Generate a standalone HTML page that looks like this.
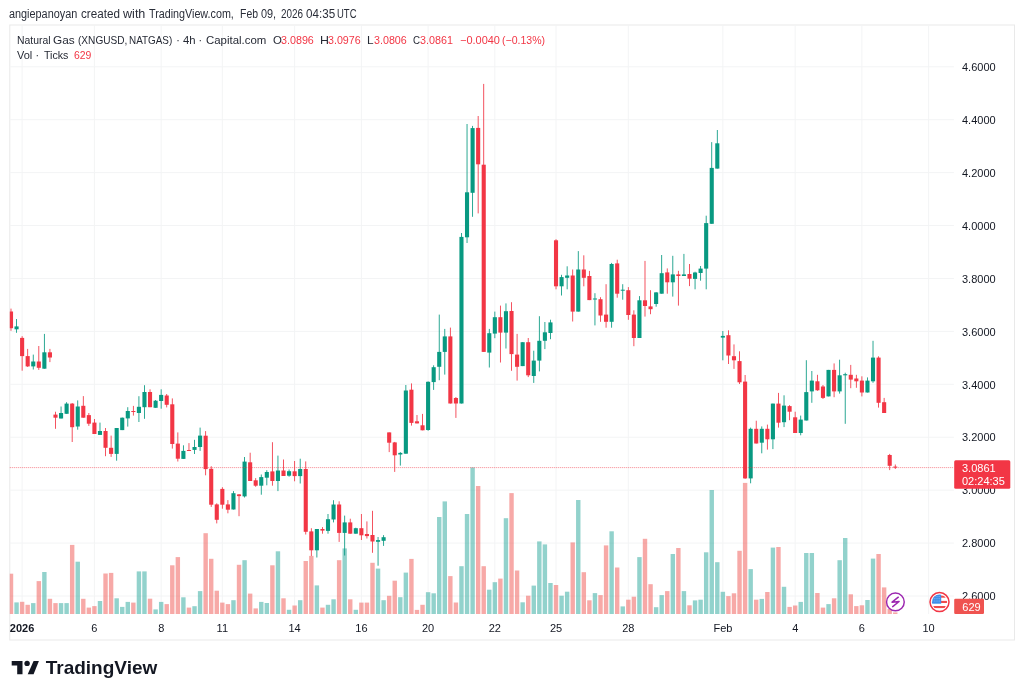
<!DOCTYPE html>
<html><head><meta charset="utf-8">
<style>
html,body{margin:0;padding:0;background:#fff;}
body{width:1024px;height:696px;overflow:hidden;position:relative;font-family:"Liberation Sans",sans-serif;color:#131722;}
.t{position:absolute;white-space:nowrap;line-height:1;}
svg{position:absolute;left:0;top:0;}
.r{color:#F23645;}
.ax{position:absolute;white-space:nowrap;line-height:1;font-size:11px;color:#131722;transform:translateX(-50%);}
.pl{position:absolute;white-space:nowrap;line-height:1;font-size:11px;color:#131722;left:962px;}
</style></head><body>
<div id="wrap" style="position:absolute;left:0;top:0;width:1024px;height:696px;filter:blur(0.3px)">
<svg width="1024" height="696" viewBox="0 0 1024 696">
<defs><clipPath id="clip"><rect x="9.8" y="25.0" width="944.1" height="589.1"/></clipPath></defs>
<rect x="9.8" y="25.0" width="1004.7" height="615.0" fill="none" stroke="#E9E9E9" stroke-width="1"/>
<line x1="9.8" y1="66.80" x2="953.9" y2="66.80" stroke="#F3F4F5" stroke-width="1"/>
<line x1="9.8" y1="119.72" x2="953.9" y2="119.72" stroke="#F3F4F5" stroke-width="1"/>
<line x1="9.8" y1="172.64" x2="953.9" y2="172.64" stroke="#F3F4F5" stroke-width="1"/>
<line x1="9.8" y1="225.56" x2="953.9" y2="225.56" stroke="#F3F4F5" stroke-width="1"/>
<line x1="9.8" y1="278.48" x2="953.9" y2="278.48" stroke="#F3F4F5" stroke-width="1"/>
<line x1="9.8" y1="331.40" x2="953.9" y2="331.40" stroke="#F3F4F5" stroke-width="1"/>
<line x1="9.8" y1="384.32" x2="953.9" y2="384.32" stroke="#F3F4F5" stroke-width="1"/>
<line x1="9.8" y1="437.24" x2="953.9" y2="437.24" stroke="#F3F4F5" stroke-width="1"/>
<line x1="9.8" y1="490.16" x2="953.9" y2="490.16" stroke="#F3F4F5" stroke-width="1"/>
<line x1="9.8" y1="543.08" x2="953.9" y2="543.08" stroke="#F3F4F5" stroke-width="1"/>
<line x1="9.8" y1="596.00" x2="953.9" y2="596.00" stroke="#F3F4F5" stroke-width="1"/>
<line x1="22.12" y1="25.0" x2="22.12" y2="614.1" stroke="#F3F4F5" stroke-width="1"/>
<line x1="94.42" y1="25.0" x2="94.42" y2="614.1" stroke="#F3F4F5" stroke-width="1"/>
<line x1="161.16" y1="25.0" x2="161.16" y2="614.1" stroke="#F3F4F5" stroke-width="1"/>
<line x1="222.33" y1="25.0" x2="222.33" y2="614.1" stroke="#F3F4F5" stroke-width="1"/>
<line x1="294.63" y1="25.0" x2="294.63" y2="614.1" stroke="#F3F4F5" stroke-width="1"/>
<line x1="361.37" y1="25.0" x2="361.37" y2="614.1" stroke="#F3F4F5" stroke-width="1"/>
<line x1="428.11" y1="25.0" x2="428.11" y2="614.1" stroke="#F3F4F5" stroke-width="1"/>
<line x1="494.84" y1="25.0" x2="494.84" y2="614.1" stroke="#F3F4F5" stroke-width="1"/>
<line x1="556.02" y1="25.0" x2="556.02" y2="614.1" stroke="#F3F4F5" stroke-width="1"/>
<line x1="628.32" y1="25.0" x2="628.32" y2="614.1" stroke="#F3F4F5" stroke-width="1"/>
<line x1="722.86" y1="25.0" x2="722.86" y2="614.1" stroke="#F3F4F5" stroke-width="1"/>
<line x1="795.16" y1="25.0" x2="795.16" y2="614.1" stroke="#F3F4F5" stroke-width="1"/>
<line x1="861.89" y1="25.0" x2="861.89" y2="614.1" stroke="#F3F4F5" stroke-width="1"/>
<line x1="928.63" y1="25.0" x2="928.63" y2="614.1" stroke="#F3F4F5" stroke-width="1"/>
<g clip-path="url(#clip)"><rect x="8.80" y="573.7" width="4.4" height="40.4" fill="rgba(239,83,80,0.5)"/><rect x="14.36" y="602.4" width="4.4" height="11.7" fill="rgba(38,166,154,0.5)"/><rect x="19.92" y="601.8" width="4.4" height="12.3" fill="rgba(239,83,80,0.5)"/><rect x="25.48" y="604.8" width="4.4" height="9.3" fill="rgba(239,83,80,0.5)"/><rect x="31.05" y="603.1" width="4.4" height="11.0" fill="rgba(38,166,154,0.5)"/><rect x="36.61" y="581.1" width="4.4" height="33.0" fill="rgba(239,83,80,0.5)"/><rect x="42.17" y="572.0" width="4.4" height="42.1" fill="rgba(38,166,154,0.5)"/><rect x="47.73" y="598.8" width="4.4" height="15.3" fill="rgba(239,83,80,0.5)"/><rect x="53.29" y="603.1" width="4.4" height="11.0" fill="rgba(239,83,80,0.5)"/><rect x="58.85" y="603.1" width="4.4" height="11.0" fill="rgba(38,166,154,0.5)"/><rect x="64.41" y="603.1" width="4.4" height="11.0" fill="rgba(38,166,154,0.5)"/><rect x="69.98" y="544.9" width="4.4" height="69.2" fill="rgba(239,83,80,0.5)"/><rect x="75.54" y="561.7" width="4.4" height="52.4" fill="rgba(38,166,154,0.5)"/><rect x="81.10" y="598.8" width="4.4" height="15.3" fill="rgba(239,83,80,0.5)"/><rect x="86.66" y="607.6" width="4.4" height="6.5" fill="rgba(239,83,80,0.5)"/><rect x="92.22" y="606.1" width="4.4" height="8.0" fill="rgba(239,83,80,0.5)"/><rect x="97.78" y="601.0" width="4.4" height="13.1" fill="rgba(38,166,154,0.5)"/><rect x="103.34" y="573.5" width="4.4" height="40.6" fill="rgba(239,83,80,0.5)"/><rect x="108.91" y="572.9" width="4.4" height="41.2" fill="rgba(239,83,80,0.5)"/><rect x="114.47" y="598.3" width="4.4" height="15.8" fill="rgba(38,166,154,0.5)"/><rect x="120.03" y="606.9" width="4.4" height="7.2" fill="rgba(38,166,154,0.5)"/><rect x="125.59" y="601.9" width="4.4" height="12.2" fill="rgba(38,166,154,0.5)"/><rect x="131.15" y="602.6" width="4.4" height="11.5" fill="rgba(239,83,80,0.5)"/><rect x="136.71" y="571.4" width="4.4" height="42.7" fill="rgba(38,166,154,0.5)"/><rect x="142.27" y="571.4" width="4.4" height="42.7" fill="rgba(38,166,154,0.5)"/><rect x="147.84" y="598.7" width="4.4" height="15.4" fill="rgba(239,83,80,0.5)"/><rect x="153.40" y="609.4" width="4.4" height="4.7" fill="rgba(38,166,154,0.5)"/><rect x="158.96" y="601.9" width="4.4" height="12.2" fill="rgba(38,166,154,0.5)"/><rect x="164.52" y="604.1" width="4.4" height="10.0" fill="rgba(239,83,80,0.5)"/><rect x="170.08" y="565.3" width="4.4" height="48.8" fill="rgba(239,83,80,0.5)"/><rect x="175.64" y="557.1" width="4.4" height="57.0" fill="rgba(239,83,80,0.5)"/><rect x="181.20" y="597.3" width="4.4" height="16.8" fill="rgba(38,166,154,0.5)"/><rect x="186.76" y="607.6" width="4.4" height="6.5" fill="rgba(239,83,80,0.5)"/><rect x="192.33" y="606.2" width="4.4" height="7.9" fill="rgba(38,166,154,0.5)"/><rect x="197.89" y="591.1" width="4.4" height="23.0" fill="rgba(38,166,154,0.5)"/><rect x="203.45" y="533.2" width="4.4" height="80.9" fill="rgba(239,83,80,0.5)"/><rect x="209.01" y="558.8" width="4.4" height="55.3" fill="rgba(239,83,80,0.5)"/><rect x="214.57" y="590.7" width="4.4" height="23.4" fill="rgba(239,83,80,0.5)"/><rect x="220.13" y="602.6" width="4.4" height="11.5" fill="rgba(239,83,80,0.5)"/><rect x="225.69" y="604.1" width="4.4" height="10.0" fill="rgba(239,83,80,0.5)"/><rect x="231.26" y="600.2" width="4.4" height="13.9" fill="rgba(38,166,154,0.5)"/><rect x="236.82" y="564.8" width="4.4" height="49.3" fill="rgba(239,83,80,0.5)"/><rect x="242.38" y="560.2" width="4.4" height="53.9" fill="rgba(38,166,154,0.5)"/><rect x="247.94" y="593.6" width="4.4" height="20.5" fill="rgba(239,83,80,0.5)"/><rect x="253.50" y="608.4" width="4.4" height="5.7" fill="rgba(239,83,80,0.5)"/><rect x="259.06" y="601.9" width="4.4" height="12.2" fill="rgba(38,166,154,0.5)"/><rect x="264.62" y="603.0" width="4.4" height="11.1" fill="rgba(38,166,154,0.5)"/><rect x="270.19" y="565.3" width="4.4" height="48.8" fill="rgba(239,83,80,0.5)"/><rect x="275.75" y="551.3" width="4.4" height="62.8" fill="rgba(38,166,154,0.5)"/><rect x="281.31" y="598.3" width="4.4" height="15.8" fill="rgba(239,83,80,0.5)"/><rect x="286.87" y="609.8" width="4.4" height="4.3" fill="rgba(38,166,154,0.5)"/><rect x="292.43" y="605.5" width="4.4" height="8.6" fill="rgba(239,83,80,0.5)"/><rect x="297.99" y="600.2" width="4.4" height="13.9" fill="rgba(38,166,154,0.5)"/><rect x="303.55" y="561.0" width="4.4" height="53.1" fill="rgba(239,83,80,0.5)"/><rect x="309.12" y="555.9" width="4.4" height="58.2" fill="rgba(239,83,80,0.5)"/><rect x="314.68" y="585.4" width="4.4" height="28.7" fill="rgba(38,166,154,0.5)"/><rect x="320.24" y="607.6" width="4.4" height="6.5" fill="rgba(239,83,80,0.5)"/><rect x="325.80" y="604.8" width="4.4" height="9.3" fill="rgba(38,166,154,0.5)"/><rect x="331.36" y="599.3" width="4.4" height="14.8" fill="rgba(38,166,154,0.5)"/><rect x="336.92" y="560.2" width="4.4" height="53.9" fill="rgba(239,83,80,0.5)"/><rect x="342.48" y="548.4" width="4.4" height="65.7" fill="rgba(38,166,154,0.5)"/><rect x="348.05" y="599.3" width="4.4" height="14.8" fill="rgba(239,83,80,0.5)"/><rect x="353.61" y="609.8" width="4.4" height="4.3" fill="rgba(38,166,154,0.5)"/><rect x="359.17" y="602.6" width="4.4" height="11.5" fill="rgba(239,83,80,0.5)"/><rect x="364.73" y="602.6" width="4.4" height="11.5" fill="rgba(239,83,80,0.5)"/><rect x="370.29" y="562.8" width="4.4" height="51.3" fill="rgba(239,83,80,0.5)"/><rect x="375.85" y="568.6" width="4.4" height="45.5" fill="rgba(38,166,154,0.5)"/><rect x="381.41" y="600.2" width="4.4" height="13.9" fill="rgba(38,166,154,0.5)"/><rect x="386.98" y="595.8" width="4.4" height="18.3" fill="rgba(239,83,80,0.5)"/><rect x="392.54" y="580.7" width="4.4" height="33.4" fill="rgba(239,83,80,0.5)"/><rect x="398.10" y="597.2" width="4.4" height="16.9" fill="rgba(38,166,154,0.5)"/><rect x="403.66" y="572.6" width="4.4" height="41.5" fill="rgba(38,166,154,0.5)"/><rect x="409.22" y="558.9" width="4.4" height="55.2" fill="rgba(239,83,80,0.5)"/><rect x="414.78" y="609.9" width="4.4" height="4.2" fill="rgba(239,83,80,0.5)"/><rect x="420.34" y="604.8" width="4.4" height="9.3" fill="rgba(239,83,80,0.5)"/><rect x="425.91" y="592.2" width="4.4" height="21.9" fill="rgba(38,166,154,0.5)"/><rect x="431.47" y="593.3" width="4.4" height="20.8" fill="rgba(38,166,154,0.5)"/><rect x="437.03" y="517.0" width="4.4" height="97.1" fill="rgba(38,166,154,0.5)"/><rect x="442.59" y="501.4" width="4.4" height="112.7" fill="rgba(38,166,154,0.5)"/><rect x="448.15" y="576.1" width="4.4" height="38.0" fill="rgba(239,83,80,0.5)"/><rect x="453.71" y="602.5" width="4.4" height="11.6" fill="rgba(239,83,80,0.5)"/><rect x="459.27" y="566.2" width="4.4" height="47.9" fill="rgba(38,166,154,0.5)"/><rect x="464.83" y="514.0" width="4.4" height="100.1" fill="rgba(38,166,154,0.5)"/><rect x="470.40" y="467.4" width="4.4" height="146.7" fill="rgba(38,166,154,0.5)"/><rect x="475.96" y="486.0" width="4.4" height="128.1" fill="rgba(239,83,80,0.5)"/><rect x="481.52" y="566.2" width="4.4" height="47.9" fill="rgba(239,83,80,0.5)"/><rect x="487.08" y="589.7" width="4.4" height="24.4" fill="rgba(38,166,154,0.5)"/><rect x="492.64" y="582.2" width="4.4" height="31.9" fill="rgba(38,166,154,0.5)"/><rect x="498.20" y="578.6" width="4.4" height="35.5" fill="rgba(239,83,80,0.5)"/><rect x="503.76" y="518.2" width="4.4" height="95.9" fill="rgba(38,166,154,0.5)"/><rect x="509.33" y="493.1" width="4.4" height="121.0" fill="rgba(239,83,80,0.5)"/><rect x="514.89" y="570.5" width="4.4" height="43.6" fill="rgba(239,83,80,0.5)"/><rect x="520.45" y="602.3" width="4.4" height="11.8" fill="rgba(38,166,154,0.5)"/><rect x="526.01" y="595.7" width="4.4" height="18.4" fill="rgba(239,83,80,0.5)"/><rect x="531.57" y="585.6" width="4.4" height="28.5" fill="rgba(38,166,154,0.5)"/><rect x="537.13" y="541.4" width="4.4" height="72.7" fill="rgba(38,166,154,0.5)"/><rect x="542.69" y="544.4" width="4.4" height="69.7" fill="rgba(38,166,154,0.5)"/><rect x="548.26" y="583.0" width="4.4" height="31.1" fill="rgba(38,166,154,0.5)"/><rect x="553.82" y="585.0" width="4.4" height="29.1" fill="rgba(239,83,80,0.5)"/><rect x="559.38" y="595.7" width="4.4" height="18.4" fill="rgba(38,166,154,0.5)"/><rect x="564.94" y="591.7" width="4.4" height="22.4" fill="rgba(38,166,154,0.5)"/><rect x="570.50" y="542.4" width="4.4" height="71.7" fill="rgba(239,83,80,0.5)"/><rect x="576.06" y="500.0" width="4.4" height="114.1" fill="rgba(38,166,154,0.5)"/><rect x="581.62" y="572.2" width="4.4" height="41.9" fill="rgba(239,83,80,0.5)"/><rect x="587.19" y="600.3" width="4.4" height="13.8" fill="rgba(239,83,80,0.5)"/><rect x="592.75" y="593.1" width="4.4" height="21.0" fill="rgba(38,166,154,0.5)"/><rect x="598.31" y="595.1" width="4.4" height="19.0" fill="rgba(239,83,80,0.5)"/><rect x="603.87" y="545.4" width="4.4" height="68.7" fill="rgba(239,83,80,0.5)"/><rect x="609.43" y="531.3" width="4.4" height="82.8" fill="rgba(38,166,154,0.5)"/><rect x="614.99" y="567.5" width="4.4" height="46.6" fill="rgba(239,83,80,0.5)"/><rect x="620.55" y="606.4" width="4.4" height="7.7" fill="rgba(38,166,154,0.5)"/><rect x="626.12" y="599.7" width="4.4" height="14.4" fill="rgba(239,83,80,0.5)"/><rect x="631.68" y="596.7" width="4.4" height="17.4" fill="rgba(239,83,80,0.5)"/><rect x="637.24" y="557.1" width="4.4" height="57.0" fill="rgba(38,166,154,0.5)"/><rect x="642.80" y="538.8" width="4.4" height="75.3" fill="rgba(239,83,80,0.5)"/><rect x="648.36" y="584.2" width="4.4" height="29.9" fill="rgba(239,83,80,0.5)"/><rect x="653.92" y="607.2" width="4.4" height="6.9" fill="rgba(38,166,154,0.5)"/><rect x="659.48" y="595.1" width="4.4" height="19.0" fill="rgba(38,166,154,0.5)"/><rect x="665.05" y="591.1" width="4.4" height="23.0" fill="rgba(239,83,80,0.5)"/><rect x="670.61" y="554.0" width="4.4" height="60.1" fill="rgba(38,166,154,0.5)"/><rect x="676.17" y="548.0" width="4.4" height="66.1" fill="rgba(239,83,80,0.5)"/><rect x="681.73" y="591.1" width="4.4" height="23.0" fill="rgba(38,166,154,0.5)"/><rect x="687.29" y="605.3" width="4.4" height="8.8" fill="rgba(239,83,80,0.5)"/><rect x="692.85" y="600.4" width="4.4" height="13.7" fill="rgba(38,166,154,0.5)"/><rect x="698.41" y="599.7" width="4.4" height="14.4" fill="rgba(38,166,154,0.5)"/><rect x="703.97" y="552.3" width="4.4" height="61.8" fill="rgba(38,166,154,0.5)"/><rect x="709.54" y="490.0" width="4.4" height="124.1" fill="rgba(38,166,154,0.5)"/><rect x="715.10" y="562.2" width="4.4" height="51.9" fill="rgba(38,166,154,0.5)"/><rect x="720.66" y="591.8" width="4.4" height="22.3" fill="rgba(38,166,154,0.5)"/><rect x="726.22" y="596.1" width="4.4" height="18.0" fill="rgba(239,83,80,0.5)"/><rect x="731.78" y="593.3" width="4.4" height="20.8" fill="rgba(239,83,80,0.5)"/><rect x="737.34" y="550.8" width="4.4" height="63.3" fill="rgba(239,83,80,0.5)"/><rect x="742.90" y="482.9" width="4.4" height="131.2" fill="rgba(239,83,80,0.5)"/><rect x="748.47" y="569.1" width="4.4" height="45.0" fill="rgba(38,166,154,0.5)"/><rect x="754.03" y="599.7" width="4.4" height="14.4" fill="rgba(239,83,80,0.5)"/><rect x="759.59" y="598.9" width="4.4" height="15.2" fill="rgba(38,166,154,0.5)"/><rect x="765.15" y="592.0" width="4.4" height="22.1" fill="rgba(239,83,80,0.5)"/><rect x="770.71" y="547.6" width="4.4" height="66.5" fill="rgba(38,166,154,0.5)"/><rect x="776.27" y="547.0" width="4.4" height="67.1" fill="rgba(239,83,80,0.5)"/><rect x="781.83" y="586.8" width="4.4" height="27.3" fill="rgba(38,166,154,0.5)"/><rect x="787.40" y="606.9" width="4.4" height="7.2" fill="rgba(239,83,80,0.5)"/><rect x="792.96" y="605.5" width="4.4" height="8.6" fill="rgba(239,83,80,0.5)"/><rect x="798.52" y="601.9" width="4.4" height="12.2" fill="rgba(38,166,154,0.5)"/><rect x="804.08" y="553.0" width="4.4" height="61.1" fill="rgba(38,166,154,0.5)"/><rect x="809.64" y="553.0" width="4.4" height="61.1" fill="rgba(38,166,154,0.5)"/><rect x="815.20" y="593.0" width="4.4" height="21.1" fill="rgba(239,83,80,0.5)"/><rect x="820.76" y="607.6" width="4.4" height="6.5" fill="rgba(239,83,80,0.5)"/><rect x="826.33" y="604.1" width="4.4" height="10.0" fill="rgba(38,166,154,0.5)"/><rect x="831.89" y="598.3" width="4.4" height="15.8" fill="rgba(239,83,80,0.5)"/><rect x="837.45" y="560.2" width="4.4" height="53.9" fill="rgba(38,166,154,0.5)"/><rect x="843.01" y="538.0" width="4.4" height="76.1" fill="rgba(38,166,154,0.5)"/><rect x="848.57" y="594.3" width="4.4" height="19.8" fill="rgba(239,83,80,0.5)"/><rect x="854.13" y="606.1" width="4.4" height="8.0" fill="rgba(239,83,80,0.5)"/><rect x="859.69" y="605.3" width="4.4" height="8.8" fill="rgba(239,83,80,0.5)"/><rect x="865.26" y="600.0" width="4.4" height="14.1" fill="rgba(38,166,154,0.5)"/><rect x="870.82" y="558.6" width="4.4" height="55.5" fill="rgba(38,166,154,0.5)"/><rect x="876.38" y="554.0" width="4.4" height="60.1" fill="rgba(239,83,80,0.5)"/><rect x="881.94" y="587.4" width="4.4" height="26.7" fill="rgba(239,83,80,0.5)"/><rect x="887.50" y="609.0" width="4.4" height="5.1" fill="rgba(239,83,80,0.5)"/><rect x="893.06" y="612.4" width="4.4" height="1.7" fill="rgba(239,83,80,0.5)"/></g>
<g clip-path="url(#clip)"><rect x="10.57" y="308.6" width="0.85" height="22.2" fill="#F23645"/><rect x="8.95" y="311.5" width="4.1" height="16.7" fill="#F23645"/><rect x="16.14" y="319.0" width="0.85" height="13.8" fill="#089981"/><rect x="14.51" y="326.4" width="4.1" height="2.9" fill="#089981"/><rect x="21.70" y="336.2" width="0.85" height="34.5" fill="#F23645"/><rect x="20.07" y="337.9" width="4.1" height="18.2" fill="#F23645"/><rect x="27.26" y="348.9" width="0.85" height="18.1" fill="#F23645"/><rect x="25.63" y="356.1" width="4.1" height="10.3" fill="#F23645"/><rect x="32.82" y="354.6" width="0.85" height="14.9" fill="#089981"/><rect x="31.20" y="361.5" width="4.1" height="4.9" fill="#089981"/><rect x="38.38" y="346.0" width="0.85" height="23.9" fill="#F23645"/><rect x="36.76" y="361.5" width="4.1" height="6.3" fill="#F23645"/><rect x="43.94" y="333.9" width="0.85" height="34.8" fill="#089981"/><rect x="42.32" y="352.3" width="4.1" height="16.4" fill="#089981"/><rect x="49.50" y="348.9" width="0.85" height="13.2" fill="#F23645"/><rect x="47.88" y="352.3" width="4.1" height="5.2" fill="#F23645"/><rect x="55.07" y="411.7" width="0.85" height="17.1" fill="#F23645"/><rect x="53.44" y="414.6" width="4.1" height="3.1" fill="#F23645"/><rect x="60.63" y="406.5" width="0.85" height="12.0" fill="#089981"/><rect x="59.00" y="413.0" width="4.1" height="5.5" fill="#089981"/><rect x="66.19" y="402.2" width="0.85" height="11.6" fill="#089981"/><rect x="64.56" y="403.6" width="4.1" height="10.2" fill="#089981"/><rect x="71.75" y="403.0" width="0.85" height="39.0" fill="#F23645"/><rect x="70.13" y="403.6" width="4.1" height="23.6" fill="#F23645"/><rect x="77.31" y="400.4" width="0.85" height="29.3" fill="#089981"/><rect x="75.69" y="406.5" width="4.1" height="20.0" fill="#089981"/><rect x="82.87" y="396.1" width="0.85" height="21.6" fill="#F23645"/><rect x="81.25" y="405.8" width="4.1" height="11.9" fill="#F23645"/><rect x="88.43" y="413.0" width="0.85" height="12.9" fill="#F23645"/><rect x="86.81" y="415.1" width="4.1" height="8.6" fill="#F23645"/><rect x="94.00" y="419.0" width="0.85" height="15.0" fill="#F23645"/><rect x="92.37" y="422.6" width="4.1" height="11.4" fill="#F23645"/><rect x="99.56" y="422.6" width="0.85" height="12.4" fill="#089981"/><rect x="97.93" y="431.0" width="4.1" height="3.9" fill="#089981"/><rect x="105.12" y="428.0" width="0.85" height="28.2" fill="#F23645"/><rect x="103.49" y="431.0" width="4.1" height="16.8" fill="#F23645"/><rect x="110.68" y="435.6" width="0.85" height="21.3" fill="#F23645"/><rect x="109.06" y="447.8" width="4.1" height="6.1" fill="#F23645"/><rect x="116.24" y="428.0" width="0.85" height="32.7" fill="#089981"/><rect x="114.62" y="428.0" width="4.1" height="25.9" fill="#089981"/><rect x="121.80" y="417.5" width="0.85" height="12.6" fill="#089981"/><rect x="120.18" y="417.7" width="4.1" height="12.4" fill="#089981"/><rect x="127.36" y="407.2" width="0.85" height="19.4" fill="#089981"/><rect x="125.74" y="411.0" width="4.1" height="7.4" fill="#089981"/><rect x="132.93" y="405.9" width="0.85" height="9.7" fill="#F23645"/><rect x="131.30" y="411.0" width="4.1" height="1.0" fill="#F23645"/><rect x="138.49" y="396.2" width="0.85" height="25.8" fill="#089981"/><rect x="136.86" y="406.8" width="4.1" height="6.2" fill="#089981"/><rect x="144.05" y="385.2" width="0.85" height="33.6" fill="#089981"/><rect x="142.42" y="392.0" width="4.1" height="15.2" fill="#089981"/><rect x="149.61" y="389.3" width="0.85" height="17.9" fill="#F23645"/><rect x="147.98" y="392.0" width="4.1" height="15.2" fill="#F23645"/><rect x="155.17" y="400.0" width="0.85" height="7.8" fill="#089981"/><rect x="153.55" y="400.7" width="4.1" height="7.1" fill="#089981"/><rect x="160.73" y="389.3" width="0.85" height="19.4" fill="#089981"/><rect x="159.11" y="394.9" width="4.1" height="6.1" fill="#089981"/><rect x="166.29" y="394.0" width="0.85" height="13.4" fill="#F23645"/><rect x="164.67" y="395.5" width="4.1" height="9.3" fill="#F23645"/><rect x="171.86" y="398.4" width="0.85" height="50.2" fill="#F23645"/><rect x="170.23" y="404.3" width="4.1" height="39.7" fill="#F23645"/><rect x="177.42" y="432.4" width="0.85" height="29.1" fill="#F23645"/><rect x="175.79" y="443.6" width="4.1" height="15.1" fill="#F23645"/><rect x="182.98" y="445.3" width="0.85" height="13.6" fill="#089981"/><rect x="181.35" y="450.9" width="4.1" height="8.0" fill="#089981"/><rect x="188.54" y="443.1" width="0.85" height="7.9" fill="#F23645"/><rect x="186.91" y="450.0" width="4.1" height="1.0" fill="#F23645"/><rect x="194.10" y="439.8" width="0.85" height="14.2" fill="#089981"/><rect x="192.48" y="447.0" width="4.1" height="2.9" fill="#089981"/><rect x="199.66" y="427.6" width="0.85" height="23.3" fill="#089981"/><rect x="198.04" y="435.6" width="4.1" height="11.4" fill="#089981"/><rect x="205.22" y="431.1" width="0.85" height="44.2" fill="#F23645"/><rect x="203.60" y="435.7" width="4.1" height="33.4" fill="#F23645"/><rect x="210.79" y="466.2" width="0.85" height="40.7" fill="#F23645"/><rect x="209.16" y="468.8" width="4.1" height="35.9" fill="#F23645"/><rect x="216.35" y="503.3" width="0.85" height="20.1" fill="#F23645"/><rect x="214.72" y="504.4" width="4.1" height="15.4" fill="#F23645"/><rect x="221.91" y="487.2" width="0.85" height="21.5" fill="#F23645"/><rect x="220.28" y="488.9" width="4.1" height="15.8" fill="#F23645"/><rect x="227.47" y="500.1" width="0.85" height="13.2" fill="#F23645"/><rect x="225.84" y="504.4" width="4.1" height="5.3" fill="#F23645"/><rect x="233.03" y="491.1" width="0.85" height="18.4" fill="#089981"/><rect x="231.41" y="493.2" width="4.1" height="16.3" fill="#089981"/><rect x="238.59" y="494.0" width="0.85" height="22.2" fill="#F23645"/><rect x="236.97" y="494.4" width="4.1" height="1.7" fill="#F23645"/><rect x="244.15" y="457.0" width="0.85" height="40.5" fill="#089981"/><rect x="242.53" y="461.6" width="4.1" height="34.8" fill="#089981"/><rect x="249.72" y="452.7" width="0.85" height="28.3" fill="#F23645"/><rect x="248.09" y="462.3" width="4.1" height="18.7" fill="#F23645"/><rect x="255.28" y="478.1" width="0.85" height="8.7" fill="#F23645"/><rect x="253.65" y="480.3" width="4.1" height="5.4" fill="#F23645"/><rect x="260.84" y="474.5" width="0.85" height="20.2" fill="#089981"/><rect x="259.21" y="477.1" width="4.1" height="8.6" fill="#089981"/><rect x="266.40" y="470.2" width="0.85" height="15.1" fill="#089981"/><rect x="264.77" y="472.0" width="4.1" height="5.7" fill="#089981"/><rect x="271.96" y="442.2" width="0.85" height="43.5" fill="#F23645"/><rect x="270.34" y="471.4" width="4.1" height="9.6" fill="#F23645"/><rect x="277.52" y="455.6" width="0.85" height="35.5" fill="#089981"/><rect x="275.90" y="470.5" width="4.1" height="10.5" fill="#089981"/><rect x="283.08" y="459.5" width="0.85" height="16.5" fill="#F23645"/><rect x="281.46" y="470.5" width="4.1" height="5.5" fill="#F23645"/><rect x="288.64" y="469.5" width="0.85" height="7.2" fill="#089981"/><rect x="287.02" y="471.2" width="4.1" height="4.5" fill="#089981"/><rect x="294.21" y="461.0" width="0.85" height="20.3" fill="#F23645"/><rect x="292.58" y="471.3" width="4.1" height="4.8" fill="#F23645"/><rect x="299.77" y="458.7" width="0.85" height="24.8" fill="#089981"/><rect x="298.14" y="469.0" width="4.1" height="7.1" fill="#089981"/><rect x="305.33" y="461.4" width="0.85" height="73.1" fill="#F23645"/><rect x="303.70" y="469.0" width="4.1" height="62.8" fill="#F23645"/><rect x="310.89" y="528.2" width="0.85" height="27.8" fill="#F23645"/><rect x="309.27" y="531.4" width="4.1" height="18.9" fill="#F23645"/><rect x="316.45" y="529.0" width="0.85" height="28.5" fill="#089981"/><rect x="314.83" y="529.0" width="4.1" height="21.3" fill="#089981"/><rect x="322.01" y="527.1" width="0.85" height="6.6" fill="#F23645"/><rect x="320.39" y="529.0" width="4.1" height="1.6" fill="#F23645"/><rect x="327.57" y="514.0" width="0.85" height="19.7" fill="#089981"/><rect x="325.95" y="519.2" width="4.1" height="11.7" fill="#089981"/><rect x="333.14" y="500.2" width="0.85" height="22.2" fill="#089981"/><rect x="331.51" y="504.5" width="4.1" height="15.0" fill="#089981"/><rect x="338.70" y="501.3" width="0.85" height="40.6" fill="#F23645"/><rect x="337.07" y="504.5" width="4.1" height="28.4" fill="#F23645"/><rect x="344.26" y="515.6" width="0.85" height="39.9" fill="#089981"/><rect x="342.63" y="522.4" width="4.1" height="10.5" fill="#089981"/><rect x="349.82" y="518.7" width="0.85" height="15.0" fill="#F23645"/><rect x="348.20" y="522.4" width="4.1" height="11.3" fill="#F23645"/><rect x="355.38" y="527.7" width="0.85" height="6.0" fill="#089981"/><rect x="353.76" y="528.2" width="4.1" height="5.5" fill="#089981"/><rect x="360.94" y="514.0" width="0.85" height="26.0" fill="#F23645"/><rect x="359.32" y="528.2" width="4.1" height="7.1" fill="#F23645"/><rect x="366.50" y="521.4" width="0.85" height="17.1" fill="#F23645"/><rect x="364.88" y="534.0" width="4.1" height="2.1" fill="#F23645"/><rect x="372.07" y="510.8" width="0.85" height="42.0" fill="#F23645"/><rect x="370.44" y="535.0" width="4.1" height="6.5" fill="#F23645"/><rect x="377.63" y="537.0" width="0.85" height="28.7" fill="#089981"/><rect x="376.00" y="540.1" width="4.1" height="1.7" fill="#089981"/><rect x="383.19" y="535.1" width="0.85" height="10.8" fill="#089981"/><rect x="381.56" y="537.2" width="4.1" height="3.6" fill="#089981"/><rect x="388.75" y="432.4" width="0.85" height="19.7" fill="#F23645"/><rect x="387.13" y="432.4" width="4.1" height="10.3" fill="#F23645"/><rect x="394.31" y="441.9" width="0.85" height="30.0" fill="#F23645"/><rect x="392.69" y="442.4" width="4.1" height="12.9" fill="#F23645"/><rect x="399.87" y="452.1" width="0.85" height="13.5" fill="#089981"/><rect x="398.25" y="452.9" width="4.1" height="1.6" fill="#089981"/><rect x="405.43" y="385.0" width="0.85" height="68.7" fill="#089981"/><rect x="403.81" y="390.5" width="4.1" height="63.2" fill="#089981"/><rect x="411.00" y="383.4" width="0.85" height="42.2" fill="#F23645"/><rect x="409.37" y="389.7" width="4.1" height="33.2" fill="#F23645"/><rect x="416.56" y="415.0" width="0.85" height="8.4" fill="#F23645"/><rect x="414.93" y="421.3" width="4.1" height="2.1" fill="#F23645"/><rect x="422.12" y="413.9" width="0.85" height="16.4" fill="#F23645"/><rect x="420.49" y="425.3" width="4.1" height="5.0" fill="#F23645"/><rect x="427.68" y="381.4" width="0.85" height="49.4" fill="#089981"/><rect x="426.06" y="381.8" width="4.1" height="48.2" fill="#089981"/><rect x="433.24" y="365.3" width="0.85" height="24.6" fill="#089981"/><rect x="431.62" y="367.2" width="4.1" height="14.9" fill="#089981"/><rect x="438.80" y="314.6" width="0.85" height="65.6" fill="#089981"/><rect x="437.18" y="351.9" width="4.1" height="14.9" fill="#089981"/><rect x="444.36" y="328.9" width="0.85" height="45.7" fill="#089981"/><rect x="442.74" y="336.4" width="4.1" height="15.5" fill="#089981"/><rect x="449.93" y="327.6" width="0.85" height="75.9" fill="#F23645"/><rect x="448.30" y="336.4" width="4.1" height="67.1" fill="#F23645"/><rect x="455.49" y="397.0" width="0.85" height="20.9" fill="#F23645"/><rect x="453.86" y="398.0" width="4.1" height="5.5" fill="#F23645"/><rect x="461.05" y="233.0" width="0.85" height="170.5" fill="#089981"/><rect x="459.42" y="236.9" width="4.1" height="166.6" fill="#089981"/><rect x="466.61" y="124.0" width="0.85" height="119.0" fill="#089981"/><rect x="464.98" y="192.3" width="4.1" height="45.0" fill="#089981"/><rect x="472.17" y="125.9" width="0.85" height="90.9" fill="#089981"/><rect x="470.55" y="128.1" width="4.1" height="64.7" fill="#089981"/><rect x="477.73" y="116.0" width="0.85" height="97.4" fill="#F23645"/><rect x="476.11" y="127.9" width="4.1" height="36.4" fill="#F23645"/><rect x="483.29" y="83.9" width="0.85" height="268.0" fill="#F23645"/><rect x="481.67" y="164.7" width="4.1" height="187.2" fill="#F23645"/><rect x="488.86" y="328.9" width="0.85" height="38.6" fill="#089981"/><rect x="487.23" y="333.2" width="4.1" height="19.4" fill="#089981"/><rect x="494.42" y="311.6" width="0.85" height="26.6" fill="#089981"/><rect x="492.79" y="317.2" width="4.1" height="16.4" fill="#089981"/><rect x="499.98" y="305.6" width="0.85" height="56.9" fill="#F23645"/><rect x="498.35" y="317.2" width="4.1" height="15.4" fill="#F23645"/><rect x="505.54" y="303.4" width="0.85" height="45.1" fill="#089981"/><rect x="503.91" y="311.2" width="4.1" height="21.4" fill="#089981"/><rect x="511.10" y="302.2" width="0.85" height="68.6" fill="#F23645"/><rect x="509.48" y="311.0" width="4.1" height="43.1" fill="#F23645"/><rect x="516.66" y="333.9" width="0.85" height="46.7" fill="#F23645"/><rect x="515.04" y="354.6" width="4.1" height="12.2" fill="#F23645"/><rect x="522.22" y="342.2" width="0.85" height="23.9" fill="#089981"/><rect x="520.60" y="342.2" width="4.1" height="23.9" fill="#089981"/><rect x="527.79" y="338.0" width="0.85" height="39.1" fill="#F23645"/><rect x="526.16" y="342.2" width="4.1" height="33.1" fill="#F23645"/><rect x="533.35" y="350.7" width="0.85" height="32.2" fill="#089981"/><rect x="531.72" y="360.6" width="4.1" height="15.4" fill="#089981"/><rect x="538.91" y="316.2" width="0.85" height="55.2" fill="#089981"/><rect x="537.28" y="340.8" width="4.1" height="19.8" fill="#089981"/><rect x="544.47" y="322.0" width="0.85" height="27.1" fill="#089981"/><rect x="542.84" y="332.3" width="4.1" height="8.5" fill="#089981"/><rect x="550.03" y="319.7" width="0.85" height="19.5" fill="#089981"/><rect x="548.41" y="322.4" width="4.1" height="10.6" fill="#089981"/><rect x="555.59" y="239.2" width="0.85" height="50.1" fill="#F23645"/><rect x="553.97" y="240.3" width="4.1" height="46.0" fill="#F23645"/><rect x="561.15" y="274.8" width="0.85" height="20.7" fill="#089981"/><rect x="559.53" y="277.1" width="4.1" height="9.2" fill="#089981"/><rect x="566.72" y="266.3" width="0.85" height="23.0" fill="#089981"/><rect x="565.09" y="275.5" width="4.1" height="2.3" fill="#089981"/><rect x="572.28" y="269.5" width="0.85" height="52.0" fill="#F23645"/><rect x="570.65" y="275.5" width="4.1" height="36.1" fill="#F23645"/><rect x="577.84" y="251.1" width="0.85" height="60.5" fill="#089981"/><rect x="576.21" y="269.5" width="4.1" height="42.1" fill="#089981"/><rect x="583.40" y="255.3" width="0.85" height="31.0" fill="#F23645"/><rect x="581.77" y="269.5" width="4.1" height="8.3" fill="#F23645"/><rect x="588.96" y="270.9" width="0.85" height="29.2" fill="#F23645"/><rect x="587.34" y="276.0" width="4.1" height="24.1" fill="#F23645"/><rect x="594.52" y="293.2" width="0.85" height="32.2" fill="#089981"/><rect x="592.90" y="298.5" width="4.1" height="1.0" fill="#089981"/><rect x="600.08" y="297.2" width="0.85" height="24.6" fill="#F23645"/><rect x="598.46" y="299.2" width="4.1" height="16.3" fill="#F23645"/><rect x="605.64" y="284.2" width="0.85" height="43.5" fill="#F23645"/><rect x="604.02" y="314.6" width="4.1" height="7.2" fill="#F23645"/><rect x="611.21" y="262.9" width="0.85" height="64.8" fill="#089981"/><rect x="609.58" y="264.0" width="4.1" height="57.8" fill="#089981"/><rect x="616.77" y="259.7" width="0.85" height="38.0" fill="#F23645"/><rect x="615.14" y="263.4" width="4.1" height="30.3" fill="#F23645"/><rect x="622.33" y="284.2" width="0.85" height="15.5" fill="#089981"/><rect x="620.70" y="289.7" width="4.1" height="1.0" fill="#089981"/><rect x="627.89" y="287.1" width="0.85" height="32.7" fill="#F23645"/><rect x="626.27" y="290.2" width="4.1" height="24.8" fill="#F23645"/><rect x="633.45" y="310.3" width="0.85" height="35.9" fill="#F23645"/><rect x="631.83" y="314.6" width="4.1" height="23.4" fill="#F23645"/><rect x="639.01" y="296.1" width="0.85" height="41.9" fill="#089981"/><rect x="637.39" y="300.3" width="4.1" height="37.7" fill="#089981"/><rect x="644.57" y="260.9" width="0.85" height="55.7" fill="#F23645"/><rect x="642.95" y="300.3" width="4.1" height="5.7" fill="#F23645"/><rect x="650.14" y="290.2" width="0.85" height="24.0" fill="#F23645"/><rect x="648.51" y="306.4" width="4.1" height="2.8" fill="#F23645"/><rect x="655.70" y="292.1" width="0.85" height="14.6" fill="#089981"/><rect x="654.07" y="292.4" width="4.1" height="11.6" fill="#089981"/><rect x="661.26" y="255.0" width="0.85" height="38.7" fill="#089981"/><rect x="659.63" y="273.2" width="4.1" height="20.5" fill="#089981"/><rect x="666.82" y="268.4" width="0.85" height="25.3" fill="#F23645"/><rect x="665.20" y="272.4" width="4.1" height="9.9" fill="#F23645"/><rect x="672.38" y="255.8" width="0.85" height="40.8" fill="#089981"/><rect x="670.76" y="274.4" width="4.1" height="7.9" fill="#089981"/><rect x="677.94" y="270.8" width="0.85" height="34.8" fill="#F23645"/><rect x="676.32" y="274.4" width="4.1" height="1.6" fill="#F23645"/><rect x="683.50" y="253.9" width="0.85" height="22.1" fill="#089981"/><rect x="681.88" y="274.4" width="4.1" height="1.6" fill="#089981"/><rect x="689.07" y="264.0" width="0.85" height="22.1" fill="#F23645"/><rect x="687.44" y="274.0" width="4.1" height="4.7" fill="#F23645"/><rect x="694.63" y="271.7" width="0.85" height="17.6" fill="#089981"/><rect x="693.00" y="272.5" width="4.1" height="6.4" fill="#089981"/><rect x="700.19" y="266.0" width="0.85" height="14.7" fill="#089981"/><rect x="698.56" y="268.6" width="4.1" height="4.4" fill="#089981"/><rect x="705.75" y="215.7" width="0.85" height="73.6" fill="#089981"/><rect x="704.12" y="223.1" width="4.1" height="45.5" fill="#089981"/><rect x="711.31" y="142.1" width="0.85" height="81.7" fill="#089981"/><rect x="709.69" y="167.9" width="4.1" height="55.9" fill="#089981"/><rect x="716.87" y="130.0" width="0.85" height="38.6" fill="#089981"/><rect x="715.25" y="143.3" width="4.1" height="25.3" fill="#089981"/><rect x="722.43" y="331.0" width="0.85" height="29.3" fill="#089981"/><rect x="720.81" y="335.9" width="4.1" height="1.7" fill="#089981"/><rect x="728.00" y="330.3" width="0.85" height="33.7" fill="#F23645"/><rect x="726.37" y="335.2" width="4.1" height="20.3" fill="#F23645"/><rect x="733.56" y="344.4" width="0.85" height="24.5" fill="#F23645"/><rect x="731.93" y="356.2" width="4.1" height="4.1" fill="#F23645"/><rect x="739.12" y="351.3" width="0.85" height="32.7" fill="#F23645"/><rect x="737.49" y="361.1" width="4.1" height="21.2" fill="#F23645"/><rect x="744.68" y="375.0" width="0.85" height="103.9" fill="#F23645"/><rect x="743.05" y="381.6" width="4.1" height="96.8" fill="#F23645"/><rect x="750.24" y="427.6" width="0.85" height="55.7" fill="#089981"/><rect x="748.62" y="428.8" width="4.1" height="49.6" fill="#089981"/><rect x="755.80" y="420.7" width="0.85" height="22.8" fill="#F23645"/><rect x="754.18" y="428.8" width="4.1" height="14.7" fill="#F23645"/><rect x="761.36" y="426.4" width="0.85" height="26.9" fill="#089981"/><rect x="759.74" y="428.8" width="4.1" height="13.9" fill="#089981"/><rect x="766.93" y="424.6" width="0.85" height="25.0" fill="#F23645"/><rect x="765.30" y="428.8" width="4.1" height="10.5" fill="#F23645"/><rect x="772.49" y="403.6" width="0.85" height="45.5" fill="#089981"/><rect x="770.86" y="403.6" width="4.1" height="35.7" fill="#089981"/><rect x="778.05" y="392.9" width="0.85" height="34.7" fill="#F23645"/><rect x="776.42" y="403.6" width="4.1" height="19.1" fill="#F23645"/><rect x="783.61" y="395.3" width="0.85" height="31.8" fill="#089981"/><rect x="781.98" y="405.6" width="4.1" height="16.6" fill="#089981"/><rect x="789.17" y="405.1" width="0.85" height="15.1" fill="#F23645"/><rect x="787.55" y="406.1" width="4.1" height="5.6" fill="#F23645"/><rect x="794.73" y="411.7" width="0.85" height="21.3" fill="#F23645"/><rect x="793.11" y="417.3" width="4.1" height="15.7" fill="#F23645"/><rect x="800.29" y="415.6" width="0.85" height="19.7" fill="#089981"/><rect x="798.67" y="419.6" width="4.1" height="13.4" fill="#089981"/><rect x="805.86" y="360.2" width="0.85" height="60.3" fill="#089981"/><rect x="804.23" y="392.1" width="4.1" height="28.4" fill="#089981"/><rect x="811.42" y="371.0" width="0.85" height="31.8" fill="#089981"/><rect x="809.79" y="380.6" width="4.1" height="10.8" fill="#089981"/><rect x="816.98" y="374.8" width="0.85" height="16.0" fill="#F23645"/><rect x="815.35" y="381.3" width="4.1" height="9.0" fill="#F23645"/><rect x="822.54" y="385.0" width="0.85" height="14.0" fill="#F23645"/><rect x="820.91" y="386.5" width="4.1" height="11.4" fill="#F23645"/><rect x="828.10" y="369.9" width="0.85" height="26.5" fill="#089981"/><rect x="826.48" y="369.9" width="4.1" height="26.5" fill="#089981"/><rect x="833.66" y="363.4" width="0.85" height="33.8" fill="#F23645"/><rect x="832.04" y="369.9" width="4.1" height="21.5" fill="#F23645"/><rect x="839.22" y="359.7" width="0.85" height="33.9" fill="#089981"/><rect x="837.60" y="375.3" width="4.1" height="16.1" fill="#089981"/><rect x="844.79" y="372.7" width="0.85" height="51.1" fill="#089981"/><rect x="843.16" y="374.2" width="4.1" height="1.1" fill="#089981"/><rect x="850.35" y="364.9" width="0.85" height="23.3" fill="#F23645"/><rect x="848.72" y="374.8" width="4.1" height="4.8" fill="#F23645"/><rect x="855.91" y="374.8" width="0.85" height="13.0" fill="#F23645"/><rect x="854.28" y="378.5" width="4.1" height="2.8" fill="#F23645"/><rect x="861.47" y="376.3" width="0.85" height="20.1" fill="#F23645"/><rect x="859.84" y="380.6" width="4.1" height="11.9" fill="#F23645"/><rect x="867.03" y="377.4" width="0.85" height="15.1" fill="#089981"/><rect x="865.41" y="380.6" width="4.1" height="11.9" fill="#089981"/><rect x="872.59" y="340.8" width="0.85" height="42.0" fill="#089981"/><rect x="870.97" y="357.6" width="4.1" height="23.7" fill="#089981"/><rect x="878.15" y="356.3" width="0.85" height="51.3" fill="#F23645"/><rect x="876.53" y="357.6" width="4.1" height="45.2" fill="#F23645"/><rect x="883.71" y="397.9" width="0.85" height="15.1" fill="#F23645"/><rect x="882.09" y="402.2" width="4.1" height="10.8" fill="#F23645"/><rect x="889.28" y="453.9" width="0.85" height="16.2" fill="#F23645"/><rect x="887.65" y="455.0" width="4.1" height="10.8" fill="#F23645"/><rect x="894.84" y="464.5" width="0.85" height="4.5" fill="#F23645"/><rect x="893.21" y="466.6" width="4.1" height="1.0" fill="#F23645"/></g>
<line x1="9.8" y1="467.6" x2="953.9" y2="467.6" stroke="#F23645" stroke-opacity="0.6" stroke-width="1" stroke-dasharray="1 1"/>
</svg>
<div class="t" style="left:9.44px;top:8.24px;font-size:12px;color:#2a2e39;transform:scaleX(0.9052);transform-origin:0 0;">angiepanoyan</div>
<div class="t" style="left:81.00px;top:8.24px;font-size:12px;color:#2a2e39;transform:scaleX(0.9727);transform-origin:0 0;">created</div>
<div class="t" style="left:123.13px;top:8.24px;font-size:12px;color:#2a2e39;transform:scaleX(1.0480);transform-origin:0 0;">with</div>
<div class="t" style="left:148.86px;top:8.24px;font-size:12px;color:#2a2e39;transform:scaleX(0.8955);transform-origin:0 0;">TradingView.com,</div>
<div class="t" style="left:239.74px;top:8.24px;font-size:12px;color:#2a2e39;transform:scaleX(0.8698);transform-origin:0 0;">Feb</div>
<div class="t" style="left:260.77px;top:8.24px;font-size:12px;color:#2a2e39;transform:scaleX(0.9061);transform-origin:0 0;">09,</div>
<div class="t" style="left:280.50px;top:8.24px;font-size:12px;color:#2a2e39;transform:scaleX(0.8255);transform-origin:0 0;">2026</div>
<div class="t" style="left:306.03px;top:8.24px;font-size:12px;color:#2a2e39;transform:scaleX(0.9701);transform-origin:0 0;">04:35</div>
<div class="t" style="left:337.46px;top:8.24px;font-size:12px;color:#2a2e39;transform:scaleX(0.7904);transform-origin:0 0;">UTC</div>
<div class="t" style="left:16.84px;top:34.64px;font-size:10.7px;color:#262a35;transform:scaleX(0.9726);transform-origin:0 0;">Natural</div>
<div class="t" style="left:53.31px;top:34.64px;font-size:10.7px;color:#262a35;transform:scaleX(1.1055);transform-origin:0 0;">Gas</div>
<div class="t" style="left:78.47px;top:34.64px;font-size:10.7px;color:#262a35;transform:scaleX(0.9449);transform-origin:0 0;">(XNGUSD,</div>
<div class="t" style="left:129.48px;top:34.64px;font-size:10.7px;color:#262a35;transform:scaleX(0.9263);transform-origin:0 0;">NATGAS)</div>
<div class="t" style="left:183.25px;top:34.64px;font-size:10.7px;color:#262a35;transform:scaleX(1.0577);transform-origin:0 0;">4h</div>
<div class="t" style="left:206.33px;top:34.64px;font-size:10.7px;color:#262a35;transform:scaleX(1.0694);transform-origin:0 0;">Capital.com</div>
<div class="t" style="left:272.56px;top:34.64px;font-size:10.7px;color:#262a35;transform:scaleX(1.0681);transform-origin:0 0;">O</div>
<div class="t" style="left:319.88px;top:34.64px;font-size:10.7px;color:#262a35;transform:scaleX(1.1567);transform-origin:0 0;">H</div>
<div class="t" style="left:367.42px;top:34.64px;font-size:10.7px;color:#262a35;transform:scaleX(1.1045);transform-origin:0 0;">L</div>
<div class="t" style="left:412.81px;top:34.64px;font-size:10.7px;color:#262a35;transform:scaleX(0.9125);transform-origin:0 0;">C</div>
<div class="t" style="left:281.00px;top:34.64px;font-size:10.7px;color:#F23645;transform:scaleX(1.0044);transform-origin:0 0;">3.0896</div>
<div class="t" style="left:328.40px;top:34.64px;font-size:10.7px;color:#F23645;transform:scaleX(0.9981);transform-origin:0 0;">3.0976</div>
<div class="t" style="left:374.00px;top:34.64px;font-size:10.7px;color:#F23645;transform:scaleX(1.0013);transform-origin:0 0;">3.0806</div>
<div class="t" style="left:419.90px;top:34.64px;font-size:10.7px;color:#F23645;transform:scaleX(1.0061);transform-origin:0 0;">3.0861</div>
<div class="t" style="left:459.65px;top:34.64px;font-size:10.7px;color:#F23645;transform:scaleX(1.0253);transform-origin:0 0;">−0.0040</div>
<div class="t" style="left:501.64px;top:34.64px;font-size:10.7px;color:#F23645;transform:scaleX(0.9859);transform-origin:0 0;">(−0.13%)</div>
<div class="t" style="left:176.32px;top:34.64px;font-size:10.7px;color:#262a35">·</div>
<div class="t" style="left:198.62px;top:34.64px;font-size:10.7px;color:#262a35">·</div>
<div class="t" style="left:17.04px;top:49.54px;font-size:10.7px;color:#262a35;transform:scaleX(1.0286);transform-origin:0 0;">Vol</div>
<div class="t" style="left:43.86px;top:49.54px;font-size:10.7px;color:#262a35;transform:scaleX(0.9941);transform-origin:0 0;">Ticks</div>
<div class="t" style="left:35.62px;top:49.54px;font-size:10.7px;color:#262a35">·</div>
<div class="t" style="left:74.38px;top:49.54px;font-size:10.7px;color:#F23645;transform:scaleX(0.9747);transform-origin:0 0;">629</div>
<div class="pl" style="top:62.0px">4.6000</div>
<div class="pl" style="top:114.9px">4.4000</div>
<div class="pl" style="top:167.8px">4.2000</div>
<div class="pl" style="top:220.8px">4.0000</div>
<div class="pl" style="top:273.7px">3.8000</div>
<div class="pl" style="top:326.6px">3.6000</div>
<div class="pl" style="top:379.5px">3.4000</div>
<div class="pl" style="top:432.4px">3.2000</div>
<div class="pl" style="top:485.4px">3.0000</div>
<div class="pl" style="top:538.3px">2.8000</div>
<div class="pl" style="top:591.2px">2.6000</div>
<div class="t" style="left:9.8px;top:623px;font-size:11px;font-weight:bold">2026</div>
<div class="ax" style="left:94.4px;top:623px">6</div>
<div class="ax" style="left:161.2px;top:623px">8</div>
<div class="ax" style="left:222.3px;top:623px">11</div>
<div class="ax" style="left:294.6px;top:623px">14</div>
<div class="ax" style="left:361.4px;top:623px">16</div>
<div class="ax" style="left:428.1px;top:623px">20</div>
<div class="ax" style="left:494.8px;top:623px">22</div>
<div class="ax" style="left:556.0px;top:623px">25</div>
<div class="ax" style="left:628.3px;top:623px">28</div>
<div class="ax" style="left:722.9px;top:623px">Feb</div>
<div class="ax" style="left:795.2px;top:623px">4</div>
<div class="ax" style="left:861.9px;top:623px">6</div>
<div class="ax" style="left:928.6px;top:623px">10</div>
<svg width="1024" height="696" style="position:absolute;left:0;top:0"><rect x="954.2" y="460.2" width="56.1" height="28.6" rx="1.5" fill="#F23645"/><rect x="954.2" y="598.8" width="29.8" height="15.2" rx="1.2" fill="#EF5350"/></svg>
<div class="t" style="left:962px;top:463px;font-size:11px;color:#fff">3.0861</div>
<div class="t" style="left:962px;top:476px;font-size:11px;color:#fff">02:24:35</div>
<div class="t" style="left:962.3px;top:602px;font-size:11px;color:#fff">629</div>
<svg width="1024" height="696" style="position:absolute;left:0;top:0">
<circle cx="895.4" cy="601.9" r="8.85" fill="#fff" stroke="#9C27B0" stroke-width="1.45"/>
<path d="M898.3 597.2 L892.1 602.2 L899.1 601.5 L892.7 606.6" fill="none" stroke="#9C27B0" stroke-width="1.5" stroke-linejoin="round" stroke-linecap="round"/>
<defs><clipPath id="flag"><circle cx="939.5" cy="602.1" r="7.6"/></clipPath></defs>
<circle cx="939.5" cy="602.1" r="9.5" fill="#fff" stroke="#F23645" stroke-width="1.5"/>
<g clip-path="url(#flag)">
<rect x="930" y="594" width="20" height="17" fill="#fff"/>
<rect x="930" y="595.6" width="20" height="2.1" fill="#F04B4B"/>
<rect x="930" y="600.9" width="20" height="2.1" fill="#F04B4B"/>
<rect x="930" y="606.0" width="20" height="2.1" fill="#F04B4B"/>
<rect x="930" y="594" width="11.2" height="9.7" fill="#3F8FEA"/>
<circle cx="932.8" cy="596.6" r="0.45" fill="#CFE3FB"/><circle cx="932.8" cy="598.8" r="0.45" fill="#CFE3FB"/><circle cx="932.8" cy="601.0" r="0.45" fill="#CFE3FB"/><circle cx="934.9" cy="596.6" r="0.45" fill="#CFE3FB"/><circle cx="934.9" cy="598.8" r="0.45" fill="#CFE3FB"/><circle cx="934.9" cy="601.0" r="0.45" fill="#CFE3FB"/><circle cx="937.0" cy="596.6" r="0.45" fill="#CFE3FB"/><circle cx="937.0" cy="598.8" r="0.45" fill="#CFE3FB"/><circle cx="937.0" cy="601.0" r="0.45" fill="#CFE3FB"/><circle cx="939.1" cy="596.6" r="0.45" fill="#CFE3FB"/><circle cx="939.1" cy="598.8" r="0.45" fill="#CFE3FB"/><circle cx="939.1" cy="601.0" r="0.45" fill="#CFE3FB"/>
</g>
</svg>
<svg width="1024" height="696" style="position:absolute;left:0;top:0">
<path d="M11.7 660.9 H22.5 V674.3 H17.2 V665.6 H11.7 Z" fill="#131722"/>
<circle cx="27.1" cy="663.4" r="2.7" fill="#131722"/>
<path d="M33.6 660.9 H38.9 L33.6 674.3 H27.7 Z" fill="#131722"/>
</svg>
<div class="t" style="left:45.7px;top:658px;font-size:19px;font-weight:bold;color:#131722">TradingView</div>
</div>
</body></html>
